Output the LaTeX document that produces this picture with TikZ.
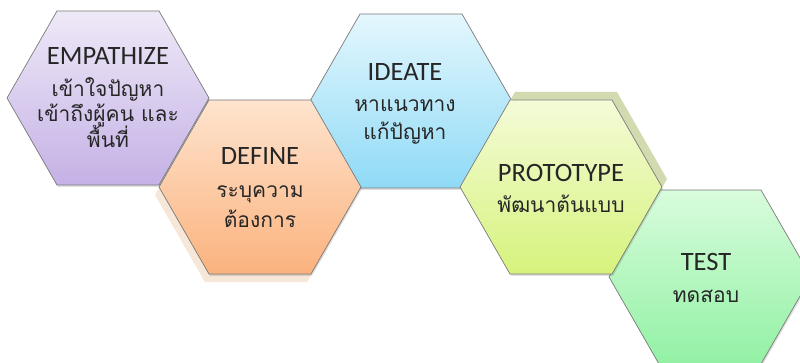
\documentclass[tikz,border=0pt]{standalone}
\usepackage{fontspec}
\setmainfont{Carlito}
\newfontfamily\thaifont[Script=Thai]{Loma}
\definecolor{edge}{HTML}{7A7A7A}
\definecolor{empT}{HTML}{EEE9F7}\definecolor{empB}{HTML}{C5B1E6}
\definecolor{defT}{HTML}{FEE4CE}\definecolor{defB}{HTML}{FBB27E}
\definecolor{ideT}{HTML}{E4F7FD}\definecolor{ideB}{HTML}{8FDAF6}
\definecolor{proT}{HTML}{F4FBD8}\definecolor{proB}{HTML}{D6F37C}
\definecolor{tesT}{HTML}{D8FCDC}\definecolor{tesB}{HTML}{92F1A4}
\definecolor{defSh}{HTML}{F6E7D8}
\definecolor{proSh}{HTML}{D2DAB0}
\newcommand\hexp[2]{({#1+101},{#2}) -- ({#1+51},{#2-87}) -- ({#1-51},{#2-87}) -- ({#1-101},{#2}) -- ({#1-51},{#2+87}) -- ({#1+51},{#2+87}) -- cycle}
\tikzset{
  hexbox/.style={draw=edge, line width=0.7pt, line join=miter},
  dshadow/.style={fill=black, opacity=0.12},
  entxt/.style={anchor=base, inner sep=0pt, font=\fontsize{26.5}{28}\selectfont, text=black!85},
  thtxt/.style={anchor=base, inner sep=0pt, font=\thaifont\fontsize{21}{24}\selectfont, text=black!85}
}
\begin{document}
\begin{tikzpicture}[x=1pt,y=-1pt]
\useasboundingbox (0,0) rectangle (800,363);
% Empathize
\fill[dshadow] \hexp{109}{100};
\shade[hexbox, top color=empT, bottom color=empB] \hexp{108}{98};
% Ideate
\fill[dshadow] \hexp{412}{103};
\shade[hexbox, top color=ideT, bottom color=ideB] \hexp{411}{101};
% Test
\fill[dshadow] \hexp{711}{279};
\shade[hexbox, top color=tesT, bottom color=tesB] \hexp{710}{277};
% Define
\fill[defSh] \hexp{256}{195};
\fill[dshadow] \hexp{261}{189};
\shade[hexbox, top color=defT, bottom color=defB] \hexp{260}{187};
% Prototype
\fill[proSh] \hexp{566}{179};
\fill[dshadow] \hexp{562}{189};
\shade[hexbox, top color=proT, bottom color=proB] \hexp{561}{187};
% texts
\node[entxt] (e1) at (108,65) {EMPATHIZE};
\node[thtxt] (e2) at (108,97) {เข้าใจปัญหา};
\node[thtxt] (e3) at (108,122) {เข้าถึงผู้คน และ};
\node[thtxt] (e4) at (108,148) {พื้นที่};
\node[entxt] (d1) at (260,165) {DEFINE};
\node[thtxt] (d2) at (260,198) {ระบุความ};
\node[thtxt] (d3) at (260,228) {ต้องการ};
\node[entxt] (i1) at (405,81) {IDEATE};
\node[thtxt] (i2) at (405,112) {หาแนวทาง};
\node[thtxt] (i3) at (405,140) {แก้ปัญหา};
\node[entxt] (p1) at (561,182) {PROTOTYPE};
\node[thtxt] (p2) at (561,213) {พัฒนาต้นแบบ};
\node[entxt] (t1) at (706,270) {TEST};
\node[thtxt] (t2) at (706,302) {ทดสอบ};
\end{tikzpicture}
\end{document}
